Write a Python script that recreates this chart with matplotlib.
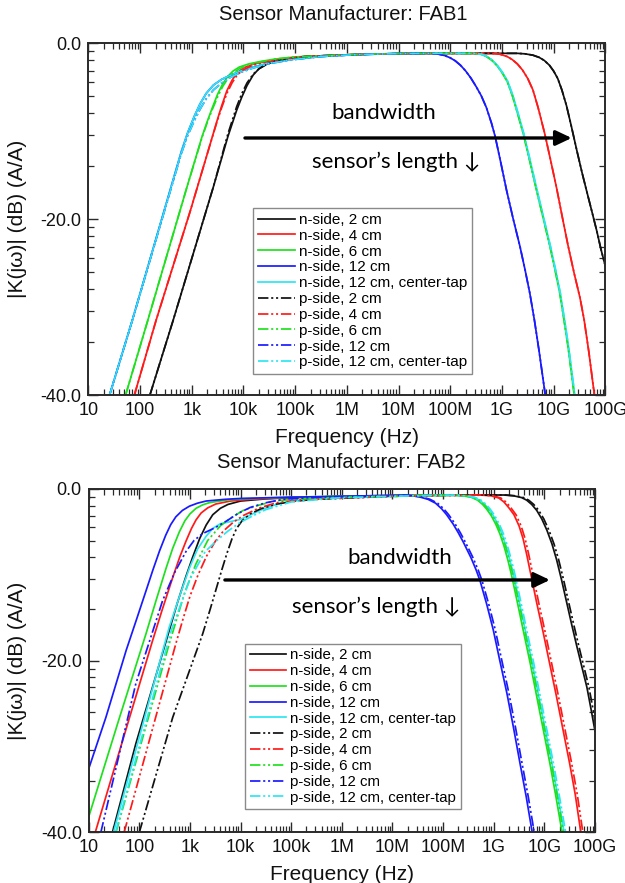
import numpy as np
import matplotlib
matplotlib.use("Agg")
import matplotlib.pyplot as plt
from matplotlib.ticker import FixedLocator, FuncFormatter, LogLocator, NullFormatter

plt.rcParams['font.family'] = ['Liberation Sans', 'DejaVu Sans']

# ---------------------------------------------------------------- labels
FREQ_DECADES = [1, 2, 3, 4, 5, 6, 7, 8, 9, 10, 11]
FREQ_TICK_LABELS = ['10', '100', '1k', '10k', '100k', '1M', '10M', '100M',
                    '1G', '10G', '100G']
DB_TICKS = [0.0, -20.0, -40.0]
SERIES_LABELS = ['n-side, 2 cm', 'n-side, 4 cm', 'n-side, 6 cm',
                 'n-side, 12 cm', 'n-side, 12 cm, center-tap',
                 'p-side, 2 cm', 'p-side, 4 cm', 'p-side, 6 cm',
                 'p-side, 12 cm', 'p-side, 12 cm, center-tap']
SERIES_COLORS = ['#111111', '#ff1a1a', '#1fe01f', '#1a1aff', '#2ee6f2'] * 2

# ---------------------------------------------------------------- FAB1 (log10 Hz, dB)
FAB1_N2_LOGF = [2.19, 2.64, 3.42, 3.7, 3.87, 3.97, 4.07, 4.19, 4.3, 4.45, 4.6, 4.84,
                5.2, 5.8, 6.5, 7.5, 9.3, 9.45, 9.6, 9.72, 9.82, 9.92, 10.0, 10.08,
                10.16, 10.25, 10.35, 10.45, 10.55, 10.64, 10.74, 10.83, 10.92, 11.0]
FAB1_N2_DB = [-40, -31.5, -16.3, -10.6, -7.6, -6.1, -4.8, -3.6, -2.9, -2.35, -2.0, -1.7,
              -1.5, -1.35, -1.22, -1.14, -1.14, -1.2, -1.35, -1.6, -1.95, -2.5, -3.15, -4.0,
              -5.3, -7.1, -9.6, -12.2, -14.7, -16.8, -19.1, -21.2, -23.5, -25.3]

FAB1_N4_LOGF = [1.89, 2.31, 2.97, 3.35, 3.48, 3.58, 3.68, 3.78, 3.88, 4.0, 4.2, 4.45,
                4.8, 5.2, 5.8, 6.5, 7.5, 8.8, 8.95, 9.1, 9.2, 9.3, 9.4, 9.5, 9.6,
                9.7, 9.83, 9.95, 10.06, 10.17, 10.28, 10.4, 10.51, 10.59, 10.68, 10.79]
FAB1_N4_DB = [-40, -31.5, -19.1, -11.6, -9.0, -7.1, -5.4, -4.2, -3.35, -2.8, -2.35, -2.05,
              -1.75, -1.5, -1.35, -1.22, -1.14, -1.14, -1.22, -1.5, -1.85, -2.35, -3.05, -4.0,
              -5.3, -7.3, -10.3, -13.5, -16.5, -19.8, -23.0, -26.2, -28.9, -31.4, -35.0, -40]

FAB1_N6_LOGF = [1.72, 2.15, 2.9, 3.2, 3.3, 3.4, 3.5, 3.6, 3.7, 3.8, 3.92, 4.1, 4.3,
                4.6, 5.0, 5.8, 6.5, 7.5, 8.45, 8.6, 8.7, 8.8, 8.9, 9.0, 9.1, 9.2,
                9.3, 9.41, 9.54, 9.67, 9.8, 9.93, 10.03, 10.12, 10.19, 10.28, 10.4]
FAB1_N6_DB = [-40, -31.5, -16.5, -10.6, -8.9, -7.3, -5.8, -4.6, -3.75, -3.15, -2.7, -2.35,
              -2.1, -1.8, -1.55, -1.35, -1.22, -1.14, -1.14, -1.25, -1.5, -1.9, -2.5, -3.3,
              -4.3, -5.9, -7.9, -10.2, -13.4, -16.7, -19.9, -23.1, -25.8, -28.4, -31.0,
              -34.5, -40]

FAB1_N12_LOGF = [1.41, 1.85, 2.8, 2.92, 3.05, 3.16, 3.28, 3.42, 3.58, 3.74, 3.95, 4.19,
                 4.5, 4.9, 5.5, 6.2, 7.0, 7.6, 7.75, 7.9, 8.0, 8.1, 8.2, 8.3, 8.4,
                 8.5, 8.6, 8.7, 8.8, 8.87, 8.98, 9.09, 9.22, 9.35, 9.45, 9.54, 9.63,
                 9.72, 9.84]
FAB1_N12_DB = [-40, -31.5, -12.3, -10.2, -8.3, -6.9, -5.7, -4.75, -4.1, -3.65, -3.15, -2.7,
               -2.25, -1.85, -1.5, -1.28, -1.17, -1.14, -1.2, -1.4, -1.65, -2.0, -2.5, -3.15,
               -3.95, -4.9, -5.95, -7.3, -9.1, -10.6, -13.6, -16.7, -20.0, -23.1, -25.8,
               -28.4, -31.5, -35.0, -40]

FAB1_N12C_LOGF = [1.41, 1.85, 2.8, 2.92, 3.05, 3.16, 3.28, 3.42, 3.58, 3.74, 3.95, 4.19,
                  4.5, 4.9, 5.5, 6.2, 7.0, 7.5, 8.46, 8.61, 8.71, 8.81, 8.91, 9.01,
                  9.11, 9.21, 9.31, 9.42, 9.55, 9.68, 9.81, 9.94, 10.04, 10.13, 10.2,
                  10.29, 10.41]
FAB1_N12C_DB = [-40, -31.5, -12.3, -10.2, -8.3, -6.9, -5.7, -4.75, -4.1, -3.65, -3.15, -2.7,
                -2.25, -1.85, -1.5, -1.28, -1.17, -1.14, -1.14, -1.25, -1.5, -1.9, -2.5,
                -3.3, -4.3, -5.9, -7.9, -10.2, -13.4, -16.7, -19.9, -23.1, -25.8, -28.4,
                -31.0, -34.5, -40]

# p-side curves are sampled on the same frequencies as their n-side partners
FAB1_P2_LOGF = FAB1_N2_LOGF
FAB1_P2_DB = [-40, -31.5, -16.3, -10.3, -7.2, -5.7, -4.5, -3.5, -2.9, -2.4, -2.05, -1.75,
              -1.5, -1.35, -1.22, -1.14, -1.14, -1.2, -1.35, -1.6, -1.95, -2.5, -3.15, -4.0,
              -5.3, -7.1, -9.6, -12.2, -14.7, -16.8, -19.1, -21.2, -23.5, -25.3]

FAB1_P4_LOGF = FAB1_N4_LOGF
FAB1_P4_DB = [-40, -31.5, -19.1, -11.6, -9.1, -7.3, -5.7, -4.5, -3.6, -3.0, -2.45, -2.1,
              -1.75, -1.5, -1.35, -1.22, -1.14, -1.14, -1.22, -1.5, -1.85, -2.35, -3.05, -4.0,
              -5.3, -7.3, -10.3, -13.5, -16.5, -19.8, -23.0, -26.2, -28.9, -31.4, -35.0, -40]

FAB1_P6_LOGF = FAB1_N6_LOGF
FAB1_P6_DB = [-40, -31.5, -16.5, -10.7, -9.0, -7.5, -6.1, -4.9, -4.0, -3.4, -2.9, -2.45,
              -2.15, -1.8, -1.55, -1.35, -1.22, -1.14, -1.14, -1.25, -1.5, -1.9, -2.5, -3.3,
              -4.3, -5.9, -7.9, -10.2, -13.4, -16.7, -19.9, -23.1, -25.8, -28.4, -31.0,
              -34.5, -40]

FAB1_P12_LOGF = FAB1_N12_LOGF
FAB1_P12_DB = [-40, -31.5, -12.5, -10.5, -8.8, -7.5, -6.3, -5.3, -4.5, -3.9, -3.3, -2.8,
               -2.3, -1.9, -1.5, -1.28, -1.17, -1.14, -1.2, -1.4, -1.65, -2.0, -2.5, -3.15,
               -3.95, -4.9, -5.95, -7.3, -9.1, -10.6, -13.6, -16.7, -20.0, -23.1, -25.8,
               -28.4, -31.5, -35.0, -40]

FAB1_P12C_LOGF = FAB1_N12C_LOGF
FAB1_P12C_DB = [-40, -31.5, -12.5, -10.5, -8.8, -7.5, -6.3, -5.3, -4.5, -3.9, -3.3, -2.8,
                -2.3, -1.9, -1.5, -1.28, -1.17, -1.14, -1.14, -1.25, -1.5, -1.9, -2.5,
                -3.3, -4.3, -5.9, -7.9, -10.2, -13.4, -16.7, -19.9, -23.1, -25.8, -28.4,
                -31.0, -34.5, -40]

# ---------------------------------------------------------------- FAB2 (log10 Hz, dB)
FAB2_N2_LOGF = [1.47, 1.93, 2.59, 2.75, 2.92, 3.05, 3.19, 3.32, 3.45, 3.6, 3.75, 4.0,
                4.5, 5.0, 6.5, 8.0, 9.2, 9.4, 9.55, 9.65, 9.75, 9.85, 9.95, 10.05,
                10.15, 10.24, 10.34, 10.44, 10.54, 10.64, 10.74, 10.84, 10.92, 11.0]
FAB2_N2_DB = [-40, -29.7, -16.5, -13.3, -10.2, -8.0, -5.8, -4.2, -3.0, -2.25, -1.8, -1.4,
              -1.15, -1.0, -0.8, -0.7, -0.7, -0.8, -1.0, -1.3, -1.8, -2.5, -3.5, -4.8,
              -6.4, -8.2, -10.6, -13.2, -15.8, -18.3, -20.7, -23.1, -25.6, -28.2]

FAB2_N4_LOGF = [1.13, 1.61, 2.26, 2.45, 2.66, 2.8, 2.92, 3.03, 3.12, 3.22, 3.35, 3.51,
                3.8, 4.2, 5.0, 6.5, 8.0, 8.75, 8.95, 9.1, 9.2, 9.3, 9.4, 9.5, 9.58,
                9.65, 9.72, 9.85, 9.98, 10.11, 10.24, 10.37, 10.5, 10.61, 10.72]
FAB2_N4_DB = [-40, -30.5, -17.7, -14.1, -10.3, -7.9, -6.1, -4.6, -3.6, -2.8, -2.2, -1.75,
              -1.4, -1.2, -1.0, -0.8, -0.7, -0.7, -0.8, -1.05, -1.5, -2.2, -3.0, -4.3, -5.8,
              -7.6, -9.6, -13.3, -16.8, -20.5, -24.2, -28.1, -32.0, -35.6, -40]

FAB2_N6_LOGF = [1.0, 1.61, 2.13, 2.33, 2.53, 2.66, 2.79, 2.9, 3.0, 3.12, 3.25, 3.38,
                3.7, 4.0, 5.0, 6.5, 8.2, 8.4, 8.55, 8.68, 8.78, 8.86, 8.95, 9.04,
                9.12, 9.2, 9.28, 9.35, 9.47, 9.58, 9.72, 9.85, 9.98, 10.11, 10.23, 10.35]
FAB2_N6_DB = [-38.2, -26.6, -16.9, -13.0, -9.2, -6.9, -5.0, -3.7, -2.9, -2.25, -1.85, -1.6,
              -1.3, -1.15, -0.95, -0.8, -0.72, -0.8, -0.95, -1.3, -1.8, -2.35, -3.1, -4.1,
              -5.2, -6.6, -8.3, -10.0, -13.3, -16.4, -20.3, -24.2, -28.1, -32.0, -35.9, -40]

FAB2_N12_LOGF = [1.0, 1.34, 1.74, 1.95, 2.13, 2.27, 2.4, 2.52, 2.62, 2.72, 2.85, 2.99,
                 3.15, 3.32, 3.7, 4.0, 5.0, 6.5, 7.2, 7.4, 7.55, 7.7, 7.85, 7.97,
                 8.07, 8.2, 8.3, 8.4, 8.55, 8.65, 8.73, 8.86, 8.99, 9.12, 9.26, 9.39,
                 9.52, 9.64, 9.76]
FAB2_N12_DB = [-32.6, -26.6, -18.8, -15.1, -11.9, -9.4, -7.2, -5.4, -4.15, -3.25, -2.5, -2.0,
               -1.65, -1.4, -1.2, -1.1, -0.95, -0.8, -0.72, -0.8, -0.95, -1.2, -1.65, -2.3,
               -3.0, -4.1, -5.1, -6.2, -8.0, -9.4, -10.7, -13.4, -16.4, -20.0, -23.8, -27.8,
               -32.0, -35.8, -40]

FAB2_N12C_LOGF = [1.49, 2.0, 2.59, 2.8, 2.99, 3.15, 3.32, 3.45, 3.6, 3.8, 3.99, 4.2,
                  4.38, 4.6, 4.84, 5.2, 5.8, 6.5, 8.0, 8.24, 8.44, 8.59, 8.72, 8.82,
                  8.9, 8.99, 9.08, 9.16, 9.24, 9.32, 9.39, 9.51, 9.62, 9.76, 9.89,
                  10.02, 10.15, 10.27, 10.39]
FAB2_N12C_DB = [-40, -28.9, -16.1, -12.4, -9.2, -7.0, -5.5, -4.6, -4.05, -3.8, -3.55, -3.0,
                -2.5, -2.0, -1.6, -1.3, -1.05, -0.9, -0.72, -0.72, -0.8, -0.95, -1.3, -1.8,
                -2.35, -3.1, -4.1, -5.2, -6.6, -8.3, -10.0, -13.3, -16.4, -20.3, -24.2,
                -28.1, -32.0, -35.9, -40]

FAB2_P2_LOGF = [2.0, 2.66, 3.25, 3.4, 3.53, 3.63, 3.73, 3.83, 3.92, 4.03, 4.19, 4.4,
                4.71, 5.1, 5.5, 7.0, 8.0, 9.24, 9.44, 9.59, 9.69, 9.79, 9.89, 9.99,
                10.09, 10.19, 10.28, 10.38, 10.48, 10.58, 10.68, 10.78, 10.88, 10.96, 11.0]
FAB2_P2_DB = [-40, -26.6, -16.9, -14.0, -11.4, -9.4, -7.5, -5.8, -4.6, -3.7, -2.9, -2.3,
              -1.75, -1.4, -1.2, -0.85, -0.75, -0.7, -0.8, -1.0, -1.3, -1.8, -2.5, -3.5,
              -4.8, -6.4, -8.2, -10.6, -13.2, -15.8, -18.3, -20.7, -23.1, -25.6, -27.0]

FAB2_P4_LOGF = [1.70, 2.72, 2.86, 3.0, 3.16, 3.33, 3.5, 3.66, 3.85, 4.05, 4.35, 4.71,
                5.1, 5.5, 7.0, 8.0, 8.79, 8.99, 9.14, 9.24, 9.34, 9.44, 9.54, 9.62,
                9.69, 9.76, 9.89, 10.02, 10.15, 10.28, 10.41, 10.54, 10.65, 10.76]
FAB2_P4_DB = [-40, -18.05, -15.2, -12.5, -10.0, -7.8, -6.1, -4.9, -3.9, -3.1, -2.25, -1.6,
              -1.3, -1.15, -0.85, -0.75, -0.7, -0.8, -1.05, -1.5, -2.2, -3.0, -4.3, -5.8,
              -7.6, -9.6, -13.3, -16.8, -20.5, -24.2, -28.1, -32.0, -35.6, -40]

FAB2_P6_LOGF = [1.54, 2.59, 2.9, 3.12, 3.35, 3.6, 3.8, 4.05, 4.35, 4.71, 5.5, 7.0,
                8.23, 8.43, 8.58, 8.71, 8.81, 8.89, 8.98, 9.07, 9.15, 9.23, 9.31,
                9.38, 9.5, 9.61, 9.75, 9.88, 10.01, 10.14, 10.26, 10.38]
FAB2_P6_DB = [-40, -18.05, -12.0, -8.7, -6.0, -4.3, -3.4, -2.5, -1.9, -1.35, -1.05, -0.85,
              -0.72, -0.8, -0.95, -1.3, -1.8, -2.35, -3.1, -4.1, -5.2, -6.6, -8.3, -10.0,
              -13.3, -16.4, -20.3, -24.2, -28.1, -32.0, -35.9, -40]

FAB2_P12_LOGF = [1.24, 1.93, 2.46, 2.7, 2.92, 3.08, 3.25, 3.5, 3.73, 3.95, 4.19, 4.5,
                 4.84, 5.5, 7.0, 7.24, 7.44, 7.59, 7.74, 7.89, 8.01, 8.11, 8.24, 8.34,
                 8.44, 8.59, 8.69, 8.77, 8.9, 9.03, 9.16, 9.3, 9.43, 9.56, 9.68, 9.8]
FAB2_P12_DB = [-40, -22.7, -13.0, -9.7, -7.3, -6.0, -5.2, -4.5, -3.7, -2.85, -2.15, -1.6,
               -1.2, -0.95, -0.8, -0.72, -0.8, -0.95, -1.2, -1.65, -2.3, -3.0, -4.1, -5.1,
               -6.2, -8.0, -9.4, -10.7, -13.4, -16.4, -20.0, -23.8, -27.8, -32.0, -35.8, -40]

FAB2_P12C_LOGF = [1.53, 2.63, 3.0, 3.3, 3.53, 3.75, 3.99, 4.25, 4.5, 5.0, 6.0, 7.0, 8.0,
                  8.27, 8.47, 8.62, 8.75, 8.85, 8.93, 9.02, 9.11, 9.19, 9.27, 9.35,
                  9.42, 9.54, 9.65, 9.79, 9.92, 10.05, 10.18, 10.3, 10.42]
FAB2_P12C_DB = [-40, -16.5, -10.5, -7.3, -6.0, -4.9, -3.9, -3.1, -2.4, -1.5, -1.0, -0.85,
                -0.72, -0.72, -0.8, -0.95, -1.3, -1.8, -2.35, -3.1, -4.1, -5.2, -6.6, -8.3,
                -10.0, -13.3, -16.4, -20.3, -24.2, -28.1, -32.0, -35.9, -40]

FAB1_SERIES = [(FAB1_N2_LOGF, FAB1_N2_DB), (FAB1_N4_LOGF, FAB1_N4_DB),
               (FAB1_N6_LOGF, FAB1_N6_DB), (FAB1_N12_LOGF, FAB1_N12_DB),
               (FAB1_N12C_LOGF, FAB1_N12C_DB), (FAB1_P2_LOGF, FAB1_P2_DB),
               (FAB1_P4_LOGF, FAB1_P4_DB), (FAB1_P6_LOGF, FAB1_P6_DB),
               (FAB1_P12_LOGF, FAB1_P12_DB), (FAB1_P12C_LOGF, FAB1_P12C_DB)]
FAB2_SERIES = [(FAB2_N2_LOGF, FAB2_N2_DB), (FAB2_N4_LOGF, FAB2_N4_DB),
               (FAB2_N6_LOGF, FAB2_N6_DB), (FAB2_N12_LOGF, FAB2_N12_DB),
               (FAB2_N12C_LOGF, FAB2_N12C_DB), (FAB2_P2_LOGF, FAB2_P2_DB),
               (FAB2_P4_LOGF, FAB2_P4_DB), (FAB2_P6_LOGF, FAB2_P6_DB),
               (FAB2_P12_LOGF, FAB2_P12_DB), (FAB2_P12C_LOGF, FAB2_P12C_DB)]

DASH_DOT_DOT = (0, (6, 1.6, 1.2, 1.6, 1.2, 1.6))
ANNOT_FONT = ['Lato', 'DejaVu Sans']
FRAME_COLOR = '#2a2a2a'


def style_axes(ax):
    ax.set_xscale('log')
    ax.set_xlim(10, 1e11)
    ax.set_ylim(-40, 0)
    ax.xaxis.set_major_locator(FixedLocator([10.0 ** d for d in FREQ_DECADES]))
    ax.xaxis.set_major_formatter(FuncFormatter(
        lambda v, p: FREQ_TICK_LABELS[int(round(np.log10(v))) - 1]))
    ax.xaxis.set_minor_locator(LogLocator(base=10, subs=np.arange(2, 10), numticks=200))
    ax.xaxis.set_minor_formatter(NullFormatter())
    ax.yaxis.set_major_locator(FixedLocator(DB_TICKS))
    ax.yaxis.set_major_formatter(FuncFormatter(lambda v, p: f"{v:.1f}"))
    # minor dB ticks follow a log spacing of the linear magnitude
    minor = [20 * np.log10(k / 10) - 20 * d for d in (0, 1) for k in range(2, 10)]
    ax.yaxis.set_minor_locator(FixedLocator(minor))
    ax.tick_params(which='both', direction='in', top=True, right=True,
                   color=FRAME_COLOR)
    ax.tick_params(which='major', length=7, width=1.0, labelsize=13, pad=5,
                   labelcolor='#111111')
    ax.tick_params(which='minor', length=4, width=0.9)
    for sp in ax.spines.values():
        sp.set_linewidth(1.4)
        sp.set_color(FRAME_COLOR)


def draw_panel(ax, series):
    for i, (logf, db) in enumerate(series):
        ls = '-' if i < 5 else DASH_DOT_DOT
        ax.plot(10.0 ** np.asarray(logf), db, color=SERIES_COLORS[i],
                lw=1.25, ls=ls, label=SERIES_LABELS[i],
                solid_joinstyle='round', dash_joinstyle='round')


def add_legend(ax, anchor, size):
    leg = ax.legend(loc='upper left', bbox_to_anchor=anchor, fontsize=size,
                    frameon=True, fancybox=False, framealpha=1,
                    edgecolor='#8a8a8a', handlelength=2.45, handletextpad=0.25,
                    labelspacing=0.12, borderpad=0.3, borderaxespad=0)
    leg.get_frame().set_linewidth(1.0)


def add_bandwidth_arrow(ax, x0, x1, y, bw_xy, len_xy):
    ax.annotate('', xy=(x1, y), xytext=(x0, y), xycoords='axes fraction',
                arrowprops=dict(arrowstyle='-|>,head_length=0.95,head_width=0.45',
                                color='black', lw=2.4, shrinkA=0, shrinkB=0))
    ax.text(*bw_xy, 'bandwidth', transform=ax.transAxes, ha='center',
            va='center', fontsize=16, family=ANNOT_FONT)
    ax.text(*len_xy, 'sensor\u2019s length \u2193', transform=ax.transAxes,
            ha='center', va='center', fontsize=16, family=ANNOT_FONT)


fig = plt.figure(figsize=(6.25, 8.83), dpi=100)
W, H = 625.0, 883.0

ax1 = fig.add_axes([88.3 / W, 1 - 395.3 / H, 517 / W, 352 / H])
ax2 = fig.add_axes([88.7 / W, 1 - 832.3 / H, 506.3 / W, 343.3 / H])

for ax, series in ((ax1, FAB1_SERIES), (ax2, FAB2_SERIES)):
    style_axes(ax)
    draw_panel(ax, series)

add_legend(ax1, (0.319, 0.531), 11)
add_legend(ax2, (0.309, 0.5485), 10.8)

add_bandwidth_arrow(ax1, 0.303, 0.935, 0.731, (0.572, 0.802), (0.596, 0.663))
add_bandwidth_arrow(ax2, 0.269, 0.911, 0.735, (0.615, 0.799), (0.567, 0.656))

# titles and axis labels
fig.text(343 / W, 1 - 14 / H, 'Sensor Manufacturer: FAB1', ha='center',
         va='center', fontsize=14.5, color='#111111')
fig.text(341 / W, 1 - 462 / H, 'Sensor Manufacturer: FAB2', ha='center',
         va='center', fontsize=14.5, color='#111111')
fig.text(347 / W, 1 - 437 / H, 'Frequency (Hz)', ha='center', va='center',
         fontsize=15, color='#111111')
fig.text(342 / W, 1 - 875 / H, 'Frequency (Hz)', ha='center', va='center',
         fontsize=15, color='#111111')
for yc in (219, 661):
    fig.text(18 / W, 1 - yc / H, '|K(j\u03c9)| (dB) (A/A)', rotation=90,
             ha='center', va='center', fontsize=15, color='#111111')

fig.savefig('out.png', dpi=100, facecolor='white')
